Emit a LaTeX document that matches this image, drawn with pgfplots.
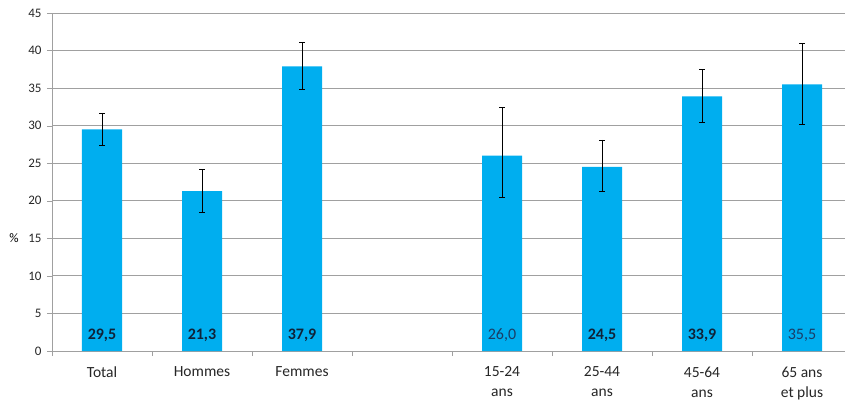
\documentclass[border=0pt]{standalone}
\usepackage{pgfplots}
\pgfplotsset{compat=1.18}
\usepackage{fontspec}
\setmainfont{Carlito}
\definecolor{barblue}{HTML}{00AEEF}
\definecolor{gridgray}{HTML}{A0A0A0}
\definecolor{lbldark}{HTML}{0F2238}
\definecolor{lblblue}{HTML}{1A3D66}
\begin{document}
\begin{tikzpicture}
\begin{axis}[
  scale only axis,
  width=793pt, height=338pt,
  xmin=-0.5, xmax=7.43,
  ymin=0, ymax=45,
  ytick={0,5,...,45},
  xtick={0,1,2,4,5,6,7},
  xticklabels={Total,Hommes,Femmes,{15-24\\ans},{25-44\\ans},{45-64\\ans},{65 ans\\et plus}},
  minor xtick={-0.5,0.5,...,6.5},
  major x tick style={draw=none},
  minor x tick style={gridgray},
  minor tick length=5pt,
  major tick length=5pt,
  tick align=outside,
  y tick style={gridgray},
  ymajorgrids,
  grid style={gridgray, line width=0.8pt},
  axis x line*=bottom,
  axis y line*=left,
  axis line style={gridgray, line width=0.8pt},
  /pgf/number format/assume math mode=true,
  tick label style={font=\fontsize{13}{15}\selectfont, text=black!85},
  xticklabel style={align=center, font=\fontsize{15.5}{20}\selectfont, yshift=-7pt},
  yticklabel style={xshift=-2pt},
  clip=false,
]
\addplot[ybar, bar width=40pt, fill=barblue, draw=none,
  error bars/.cd, y dir=both, y explicit,
  error bar style={black, line width=0.6pt},
  error mark options={rotate=90, mark size=3pt, black, line width=0.6pt}]
coordinates {
  (0,29.5) += (0,2.2) -= (0,2.1)
  (1,21.3) += (0,2.9) -= (0,2.8)
  (2,37.9) += (0,3.2) -= (0,3.0)
  (4,26.0) += (0,6.4) -= (0,5.6)
  (5,24.5) += (0,3.6) -= (0,3.3)
  (6,33.9) += (0,3.6) -= (0,3.4)
  (7,35.5) += (0,5.5) -= (0,5.3)
};
\addplot[draw=none, mark=none, point meta=explicit symbolic,
  nodes near coords, nodes near coords align=center,
  every node near coord/.append style={font=\fontsize{16}{18}\selectfont, anchor=center}]
coordinates {
  (0,2.1) [\textbf{\textcolor{lbldark}{29,5}}]
  (1,2.1) [\textbf{\textcolor{lbldark}{21,3}}]
  (2,2.1) [\textbf{\textcolor{lbldark}{37,9}}]
  (4,2.1) [\textcolor{lblblue}{26,0}]
  (5,2.1) [\textbf{\textcolor{lbldark}{24,5}}]
  (6,2.1) [\textbf{\textcolor{lbldark}{33,9}}]
  (7,2.1) [\textcolor{lblblue}{35,5}]
};
\node[font=\fontsize{13}{15}\selectfont] at ([xshift=-38pt]rel axis cs:0,0.334) {\%};
\coordinate (sw) at (rel axis cs:0,0);
\coordinate (ne) at (rel axis cs:1,1);
\end{axis}
\pgfresetboundingbox
\path[use as bounding box] ([shift={(-52pt,-50pt)}]sw) rectangle ([shift={(0pt,13pt)}]ne);
\end{tikzpicture}
\end{document}
